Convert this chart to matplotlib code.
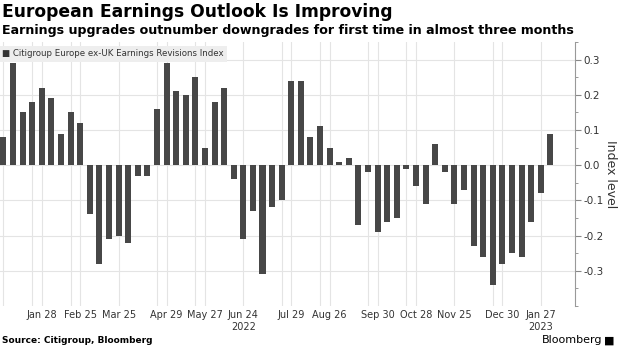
import datetime as dt
import numpy as np
import matplotlib
matplotlib.use("Agg")
import matplotlib.pyplot as plt
import matplotlib.dates as mdates

# weekly index values, first bar = Fri 31 Dec 2021
start = dt.date(2021, 12, 31)
values = [0.08, 0.29, 0.15, 0.18, 0.22, 0.19, 0.09, 0.15, 0.12, -0.14,
          -0.28, -0.21, -0.20, -0.22, -0.03, -0.03, 0.16, 0.29, 0.21, 0.20,
          0.25, 0.05, 0.18, 0.22, -0.04, -0.21, -0.13, -0.31, -0.12, -0.10,
          0.24, 0.24, 0.08, 0.11, 0.05, 0.01, 0.02, -0.17, -0.02, -0.19,
          -0.16, -0.15, -0.01, -0.06, -0.11, 0.06, -0.02, -0.11, -0.07, -0.23,
          -0.26, -0.34, -0.28, -0.25, -0.26, -0.16, -0.08, 0.09]
dates = [start + dt.timedelta(weeks=i) for i in range(len(values))]

tick_dates = ["2022-01-28", "2022-02-25", "2022-03-25", "2022-04-29", "2022-05-27",
              "2022-06-24", "2022-07-29", "2022-08-26", "2022-09-30", "2022-10-28",
              "2022-11-25", "2022-12-30", "2023-01-27"]
tick_labels = ["Jan 28", "Feb 25", "Mar 25", "Apr 29", "May 27", "Jun 24\n2022",
               "Jul 29", "Aug 26", "Sep 30", "Oct 28", "Nov 25", "Dec 30",
               "Jan 27\n2023"]
extra_grid = ["2021-12-31", "2022-01-21", "2022-02-18", "2022-04-22", "2022-05-20",
              "2022-07-22", "2022-08-19", "2022-09-23", "2022-10-21", "2022-12-23"]

yticks = [-0.3, -0.2, -0.1, 0.0, 0.1, 0.2, 0.3]

bar_color = "#474747"
grid_color = "#e4e4e4"
text_color = "#333333"

plt.rcParams["font.family"] = ["DejaVu Sans"]

fig = plt.figure(figsize=(6.2, 3.48), dpi=100)
ax = fig.add_axes([0.0, 0.1207, 0.927, 0.7586])

x = mdates.date2num(dates)
ax.bar(x, values, width=4.4, color=bar_color, zorder=3)

ax.set_xlim(x[0] - 2.5, x[-1] + 17.8)
ax.set_ylim(-0.40, 0.35)

tx = mdates.date2num([dt.date.fromisoformat(d) for d in tick_dates])
gx = mdates.date2num([dt.date.fromisoformat(d) for d in extra_grid])
ax.set_xticks(tx)
ax.set_xticklabels(tick_labels, fontsize=7, color=text_color, linespacing=1.25)
ax.set_xticks(gx, minor=True)
ax.tick_params(axis="x", which="both", length=0, pad=3)
ax.grid(axis="x", which="both", color=grid_color, linewidth=0.8, zorder=0)

ax.yaxis.tick_right()
ax.yaxis.set_label_position("right")
ax.set_yticks(yticks)
ax.set_yticklabels(["%.1f" % v for v in yticks], fontsize=7.5, color=text_color)
ax.set_yticks(np.arange(-0.40, 0.351, 0.05), minor=True)
ax.tick_params(axis="y", which="major", length=4, color="#888888", pad=2)
ax.tick_params(axis="y", which="minor", length=2, color="#888888")
ax.grid(axis="y", which="major", color=grid_color, linewidth=0.8, zorder=0)
ax.set_ylabel("Index level", fontsize=9, color=text_color, rotation=270, labelpad=10)

for side in ["top", "left", "bottom"]:
    ax.spines[side].set_visible(False)
ax.spines["right"].set_color("#999999")
ax.spines["right"].set_linewidth(0.8)

# legend box
ax.text(0.004, 0.955, "\u25a0 Citigroup Europe ex-UK Earnings Revisions Index",
        transform=ax.transAxes, fontsize=6.2, color=text_color, va="center", ha="left",
        bbox=dict(boxstyle="square,pad=0.4", facecolor="#eeeeee", edgecolor="none"),
        zorder=5)

fig.text(0.004, 0.965, "European Earnings Outlook Is Improving", fontsize=12.3,
         fontweight="bold", color="black", va="center", ha="left")
fig.text(0.004, 0.912, "Earnings upgrades outnumber downgrades for first time in almost three months",
         fontsize=9.1, fontweight="bold", color="black", va="center", ha="left")
fig.text(0.004, 0.022, "Source: Citigroup, Bloomberg", fontsize=6.5, fontweight="bold",
         color="black", va="center", ha="left")
fig.text(0.972, 0.022, "Bloomberg", fontsize=8, color="black", va="center", ha="right")
fig.text(0.983, 0.022, "\u25a0", fontsize=8, color="black", va="center", ha="center")

fig.savefig("out.png", dpi=100)
